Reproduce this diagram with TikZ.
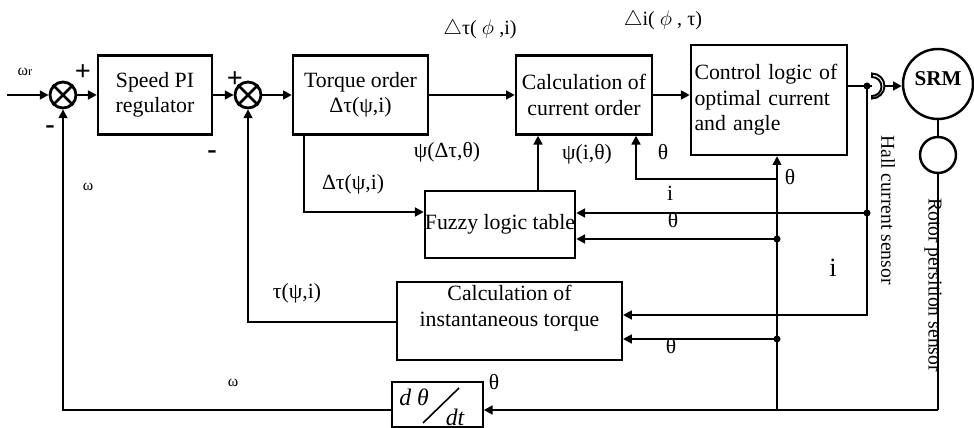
\documentclass[tikz,border=0pt]{standalone}
\usepackage{fontspec}
\setmainfont{Liberation Serif}
\usetikzlibrary{arrows.meta,calc}
\tikzset{
    box/.style={draw, line width=1.4pt, inner sep=2pt, align=center,
                font=\fontsize{12.4}{14.5}\selectfont},
    flow/.style={-{Triangle[length=5pt,width=5pt]}, line width=1.4pt},
    wire/.style={line width=1.4pt},
    thin/.style={line width=0.9pt},
    note/.style={font=\fontsize{12.3}{14}\selectfont, inner sep=0pt},
    small/.style={font=\fontsize{9}{11}\selectfont, inner sep=0pt},
    sign/.style={font=\fontsize{16}{16}\selectfont\bfseries, inner sep=0pt},
    summer/.style={circle, draw, line width=1.6pt, minimum size=0.52cm, inner sep=0pt},
    motor/.style={circle, draw, line width=1.4pt, inner sep=0pt},
    dot/.style={circle, fill, inner sep=0pt, minimum size=4pt},
}
\newcommand{\crossit}[1]{
    \draw[line width=1.6pt] (#1.north east) -- (#1.south west)
        (#1.north west) -- (#1.south east);
}

\begin{document}
\begin{tikzpicture}[x=0.02cm, y=-0.02cm]
    \useasboundingbox (0,0) rectangle (974,428);

    % forward path
    \coordinate (in) at (7,95);
    \node[summer] (s1) at (63,95) {};
    \crossit{s1}
    \node[box, minimum width=2.28cm, minimum height=1.58cm] (speed) at (155,95) {Speed PI\\regulator};
    \node[summer] (s2) at (248,95) {};
    \crossit{s2}
    \node[box, minimum width=2.7cm, minimum height=1.58cm] (torque) at (360.5,95) {Torque order\\Δτ(ψ,i)};
    \node[box, minimum width=2.72cm, minimum height=1.58cm] (current) at (584,95) {Calculation of\\current order};
    \node[box, minimum width=3.04cm, minimum height=2.2cm, align=left,
          text width=2.98cm] (ctrl) at (769,100) {Control logic of\\optimal current\\and angle};
    \node[motor, minimum size=1.4cm, font=\fontsize{12}{14}\selectfont\bfseries] (srm) at (938,84) {\raisebox{1.2ex}{SRM}};
    \node[motor, minimum size=0.72cm] (rps) at (938,155) {};

    % lower blocks
    \node[box, minimum width=2.84cm, minimum height=1.34cm, inner sep=0pt] (fuzzy) at (500,224.5) {Fuzzy logic table};
    \node[box, line width=1.2pt, minimum width=4.5cm, minimum height=1.32cm] (inst) at (509.5,321) {Calculation of\\instantaneous torque\\[3pt]};
    \node[draw, thin, minimum width=1.82cm, minimum height=0.9cm] (deriv) at (437.5,404.5) {};
    \node[font=\fontsize{13.5}{13.5}\selectfont\itshape] (dnum) at (414,397) {d θ};
    \node[font=\fontsize{13.5}{13.5}\selectfont\itshape] (dden) at (455,417) {dt};
    \draw[thin] (423,423) -- (459,388);

    % junctions
    \coordinate (hj) at (867,86);
    \coordinate (clamp) at (872,86);
    \coordinate (clampout) at (884,86);
    \coordinate (hi) at (867,213);
    \coordinate (hc) at (867,315);
    \coordinate (rb) at (938,410);
    \coordinate (tb) at (777,410);
    \coordinate (t1) at (777,239);
    \coordinate (t2) at (777,339);
    \coordinate (tc) at (777,179);
    \coordinate (tcu) at (636,179);
    \coordinate (tq) at (304,212);

    \draw[flow] (in) -- (s1.west);
    \draw[flow] (s1.east) -- (speed.west);
    \draw[flow] (speed.east) -- (s2.west);
    \draw[flow] (s2.east) -- (torque.west);
    \draw[flow] (torque.east) -- (current.west);
    \draw[flow] (current.east) -- (current.east -| ctrl.west);
    \draw[wire] (ctrl.east |- hj) -- (clamp);
    \draw[line width=1.1pt, fill=white] (872,73.5) arc[start angle=-90, end angle=90, radius=12.5]
        -- (872,96) arc[start angle=90, end angle=-90, radius=9.5] -- cycle;
    \draw[flow] (clampout) -- (srm.west |- clampout);

    % sensors
    \draw[wire] (srm.south) -- (rps.north);
    \draw[wire] (rps.south) -- (rb);
    \draw[flow] (rb) -- (deriv.east |- rb);
    \draw[flow] (deriv.west |- rb) -| (s1.south);
    \draw[thin, -{Triangle[length=5pt,width=5pt]}] (tb) -- (ctrl.south -| tb);
    \draw[flow] (tc) -- (tcu) -- (current.south -| tcu);
    \draw[flow] (hj) -- (hc) -- (inst.east |- hc);
    \draw[flow] (hi) -- (fuzzy.east |- hi);
    \draw[flow] (t1) -- (fuzzy.east |- t1);
    \draw[flow] (t2) -- (inst.east |- t2);
    \draw[flow] ($(fuzzy.north)+(38,0)$) -- ($(current.south)+(-46,0)$);
    \draw[flow] (torque.south -| tq) -- (tq) -- (fuzzy.west |- tq);
    \draw[flow] (inst.west |- 0,322) -| (s2.south);
    \node[dot] at (hj) {};
    \node[dot] at (hi) {};
    \node[dot] at (t1) {};
    \node[dot] at (t2) {};

    % labels
    \node[small] (wr) at (25,72) {ω{\fontsize{7}{8}\selectfont r}};
    \node[sign] (p1) at (83,73) {+};
    \node[sign] (m1) at (50,130) {-};
    \node[sign] (p2) at (235,80) {+};
    \node[sign] (m2) at (212,155) {-};
    \node[small] (w1) at (88,187) {ω};
    \node[small] (w2) at (233,383) {ω};
    \node[note, font=\fontsize{11.5}{13}\selectfont] at (480,29) {$\triangle$τ( $\phi$ ,i)};
    \node[note, font=\fontsize{11.5}{13}\selectfont] at (663,20) {$\triangle$i( $\phi$ , τ)};
    \node[note] at (447,152) {ψ(Δτ,θ)};
    \node[note] at (587,154) {ψ(i,θ)};
    \node[note] at (663,152) {θ};
    \node[note] at (790,177) {θ};
    \node[note] at (670,193) {i};
    \node[note] at (673,220) {θ};
    \node[note] at (353,184) {Δτ(ψ,i)};
    \node[note] at (297,293) {τ(ψ,i)};
    \node[note, font=\fontsize{15}{15}\selectfont] at (833,268) {i};
    \node[note] at (671,346) {θ};
    \node[note] at (494,382) {θ};
    \node[note, font=\fontsize{11.2}{13}\selectfont, rotate=-90] at (888,210) {Hall current sensor};
    \node[note, font=\fontsize{11.2}{13}\selectfont, rotate=-90] at (933,285) {Rotor persition sensor};
\end{tikzpicture}
\end{document}
